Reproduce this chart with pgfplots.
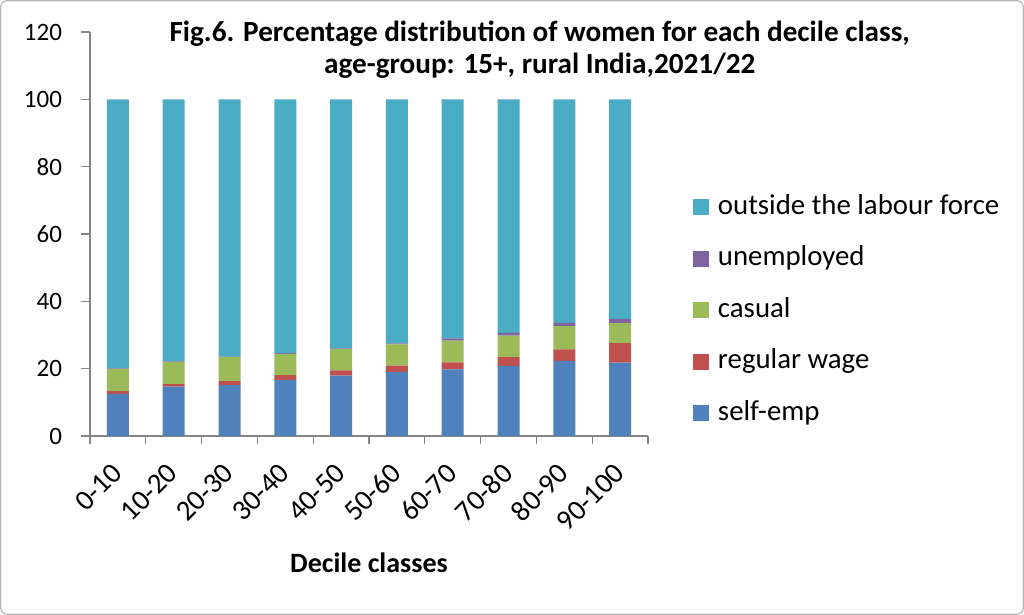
\documentclass[border=0pt]{standalone}
\usepackage{fontspec}
\setmainfont{Carlito}
\usepackage{pgfplots}
\usepackage{pgfplotstable}
\pgfplotsset{compat=1.18}

\definecolor{selfemp}{HTML}{4F81BD}
\definecolor{regwage}{HTML}{C0504D}
\definecolor{casual}{HTML}{9BBB59}
\definecolor{unemp}{HTML}{8064A2}
\definecolor{outside}{HTML}{4BACC6}
\definecolor{axisgray}{HTML}{868686}

% decile classes 0..9, shares in per cent
\pgfplotstableread{
x  self  reg  cas  unemp  out
0  12.5  0.8  6.6  0.2  79.9
1  14.7  0.7  6.6  0.2  77.8
2  15.1  1.2  7.1  0.2  76.4
3  16.6  1.5  6.3  0.2  75.4
4  17.9  1.6  6.3  0.2  74.0
5  19.0  1.9  6.3  0.3  72.5
6  19.8  2.1  6.4  0.7  71.0
7  20.8  2.6  6.4  0.8  69.4
8  22.3  3.4  6.9  1.0  66.4
9  21.8  5.8  5.9  1.2  65.3
}\shares

\begin{document}
\begin{tikzpicture}[x=1pt,y=1pt]
\useasboundingbox (0,0) rectangle (512,307.5);
\draw[gray!55, line width=0.6pt, rounded corners=3pt] (0.4,0.4) rectangle (511.6,307.1);
\begin{axis}[
    at={(45pt,89.5pt)}, anchor=south west,
    width=279pt, height=202pt, scale only axis,
    ybar stacked, bar width=11pt,
    xmin=-0.5, xmax=9.5,
    ymin=0, ymax=120,
    ytick={0,20,...,120},
    xtick={0,...,9},
    xticklabels={0-10,10-20,20-30,30-40,40-50,50-60,60-70,70-80,80-90,90-100},
    minor xtick={-0.5,0.5,...,9.5},
    major x tick style={draw=none},
    tick align=outside,
    major tick length=4.5pt, minor tick length=4pt,
    tick style={axisgray, line width=0.6pt},
    axis x line*=bottom, axis y line*=left,
    axis line style={axisgray, line width=0.6pt},
    /pgf/number format/assume math mode=true,
    yticklabel style={font=\fontsize{12.5}{14}\selectfont, xshift=-6pt},
    xticklabel style={font=\fontsize{14.4}{16}\selectfont, rotate=45, anchor=east,
        inner sep=0pt, xshift=-8.5pt, yshift=-8pt},
    title={Fig.6. Percentage distribution of women for each decile class,\\age-group: 15+, rural India,2021/22},
    title style={font=\bfseries\fontsize{14.6}{16}\selectfont, align=center,
        at={(0.806,1)}, anchor=north, yshift=3pt},
    xlabel={Decile classes},
    xlabel style={font=\bfseries\fontsize{14}{16}\selectfont,
        at={(axis description cs:0.5,-0.314)}, anchor=center},
    reverse legend,
    legend cell align=left,
    legend style={draw=none, fill=none, inner sep=0pt, outer sep=0pt,
        at={(1.0806,0.611)}, anchor=north west,
        font=\fontsize{14.4}{16}\selectfont,
        nodes={inner sep=2pt, text height=10.5pt, text depth=3.5pt},
        row sep=7.75pt},
    sq/.style={draw=none, legend image code/.code={%
        \fill[##1] (0pt,-4pt) rectangle (8pt,4pt);
        \path (10.5pt,0pt);}},
]
\addplot[fill=selfemp, sq] table[x=x, y=self] {\shares};
\addplot[fill=regwage, sq] table[x=x, y=reg] {\shares};
\addplot[fill=casual, sq] table[x=x, y=cas] {\shares};
\addplot[fill=unemp, sq] table[x=x, y=unemp] {\shares};
\addplot[fill=outside, sq] table[x=x, y=out] {\shares};
\legend{self-emp, regular wage, casual, unemployed, outside the labour force}
\end{axis}
\end{tikzpicture}
\end{document}
